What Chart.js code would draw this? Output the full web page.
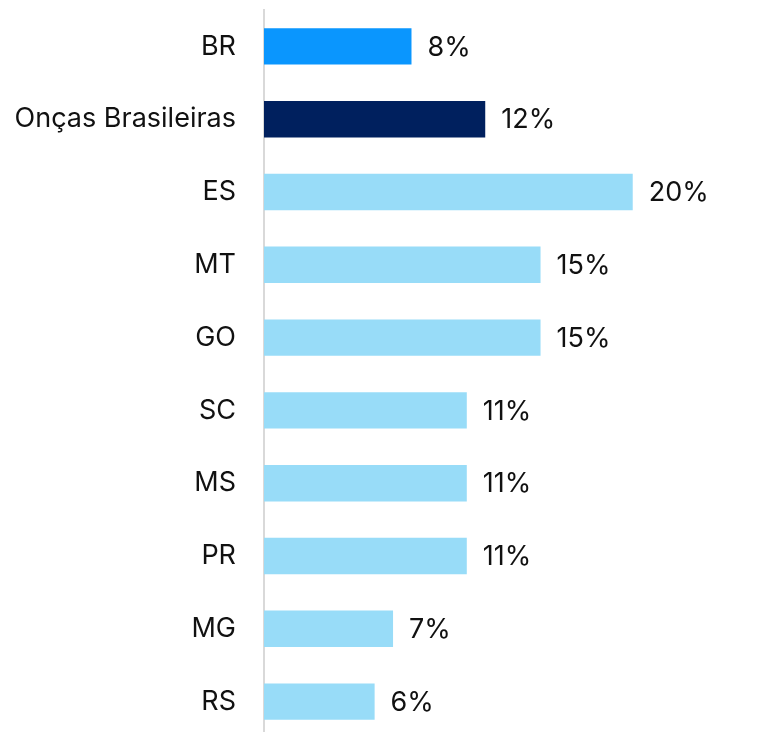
<!DOCTYPE html>
<html>
<head>
<meta charset="utf-8">
<script src="https://cdn.jsdelivr.net/npm/chart.js@4.4.0/dist/chart.umd.min.js"></script>
<style>
  html, body { margin: 0; padding: 0; background: #fff; overflow: hidden; }
</style>
</head>
<body>
<canvas id="myChart" width="777" height="738"></canvas>
<script>
// dados
var categorias = ['BR', 'Onças Brasileiras', 'ES', 'MT', 'GO', 'SC', 'MS', 'PR', 'MG', 'RS'];
var valores = [8, 12, 20, 15, 15, 11, 11, 11, 7, 6];
var cores = ['#0A96FE', '#00205E', '#98DCF8', '#98DCF8', '#98DCF8', '#98DCF8', '#98DCF8', '#98DCF8', '#98DCF8', '#98DCF8'];

// rotulos ao lado das barras
var rotulos = {
    id: 'rotulos',
    afterDatasetsDraw: function (chart) {
        var ctx = chart.ctx;
        var meta = chart.getDatasetMeta(0);
        ctx.save();
        ctx.font = '27px Inter';
        ctx.fillStyle = '#111';
        ctx.textAlign = 'left';
        ctx.textBaseline = 'middle';
        meta.data.forEach(function (bar, i) {
            ctx.fillText(valores[i] + '%', bar.x + 16, bar.y + 1);
        });
        ctx.restore();
    }
};

var ctx = document.getElementById('myChart').getContext('2d');
var chart = new Chart(ctx, {
    type: 'bar',
    data: {
        labels: categorias,
        datasets: [{
            data: valores,
            backgroundColor: cores,
            borderWidth: 0,
            categoryPercentage: 1,
            barPercentage: 0.5
        }]
    },
    options: {
        responsive: false,
        indexAxis: 'y',
        animation: false,
        layout: { padding: { top: 10, right: 6, bottom: 0, left: 0 } },
        plugins: {
            legend: { display: false },
            tooltip: { enabled: false }
        },
        scales: {
            x: {
                min: 0,
                max: 27.5,
                display: false
            },
            y: {
                grid: { display: false, drawTicks: false },
                border: { display: true, color: '#d9d9d9', width: 2 },
                ticks: {
                    color: '#111',
                    padding: 28,
                    font: { family: 'Inter', size: 27 }
                },
                afterFit: function (scale) {
                    scale.width = 264;
                    scale.paddingTop = 0;
                    scale.paddingBottom = 0;
                }
            }
        }
    },
    plugins: [rotulos]
});
</script>
</body>
</html>
